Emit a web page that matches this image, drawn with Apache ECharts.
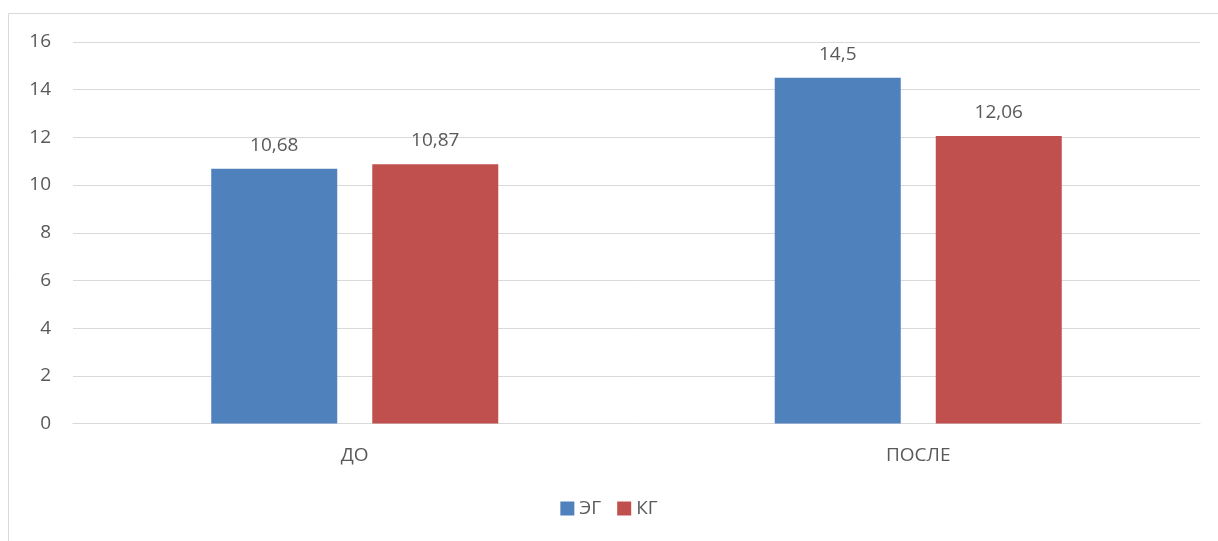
<!DOCTYPE html>
<html><head><meta charset="utf-8">
<script src="https://cdn.jsdelivr.net/npm/echarts@6/dist/echarts.min.js"></script>
<style>html,body{margin:0;padding:0;background:#fff}#c{width:1218px;height:541px}</style>
</head><body><div id="c"></div>
<script>
const categories = ['ДО', 'ПОСЛЕ'];
const seriesNames = ['ЭГ', 'КГ'];
const egValues = [10.68, 14.5];
const kgValues = [10.87, 12.06];
const yTicks = [0, 2, 4, 6, 8, 10, 12, 14, 16];

const font = '"Open Sans", "Liberation Sans", sans-serif';
const textColor = '#595959';
const fs = 19;
const chart = echarts.init(document.getElementById('c'), null, {renderer: 'canvas'});
const labelFmt = p => String(p.value).replace('.', ',');
chart.setOption({
  animation: false,
  backgroundColor: '#fff',
  graphic: [{
    type: 'rect', silent: true, z: -1,
    shape: {x: 8.5, y: 13.5, width: 1400, height: 600},
    style: {fill: 'none', stroke: '#d9d9d9', lineWidth: 1}
  }],
  grid: {left: 73, right: 18, top: 42, bottom: 117.5, containLabel: false},
  legend: {
    data: seriesNames, bottom: 18, left: 'center',
    itemWidth: 14, itemHeight: 14, itemGap: 16, icon: 'rect',
    textStyle: {color: textColor, fontSize: fs, fontFamily: font}
  },
  xAxis: {
    type: 'category', data: categories,
    axisLine: {lineStyle: {color: '#d9d9d9', width: 1}},
    axisTick: {show: false},
    axisLabel: {color: textColor, fontSize: fs, fontFamily: font, margin: 23}
  },
  yAxis: {
    type: 'value', min: yTicks[0], max: yTicks[yTicks.length - 1], interval: 2,
    axisLine: {show: false}, axisTick: {show: false},
    splitLine: {lineStyle: {color: '#d9d9d9', width: 1}},
    axisLabel: {color: textColor, fontSize: fs, fontFamily: font, margin: 22}
  },
  series: [
    {name: seriesNames[0], type: 'bar', data: egValues, barWidth: 126, barGap: '27.8%',
     itemStyle: {color: '#4f81bd'},
     label: {show: true, position: 'top', distance: 14, color: textColor, fontSize: fs, fontFamily: font, formatter: labelFmt}},
    {name: seriesNames[1], type: 'bar', data: kgValues, barWidth: 126, barGap: '27.8%',
     itemStyle: {color: '#c0504d'},
     label: {show: true, position: 'top', distance: 14, color: textColor, fontSize: fs, fontFamily: font, formatter: labelFmt}}
  ]
});
</script></body></html>
